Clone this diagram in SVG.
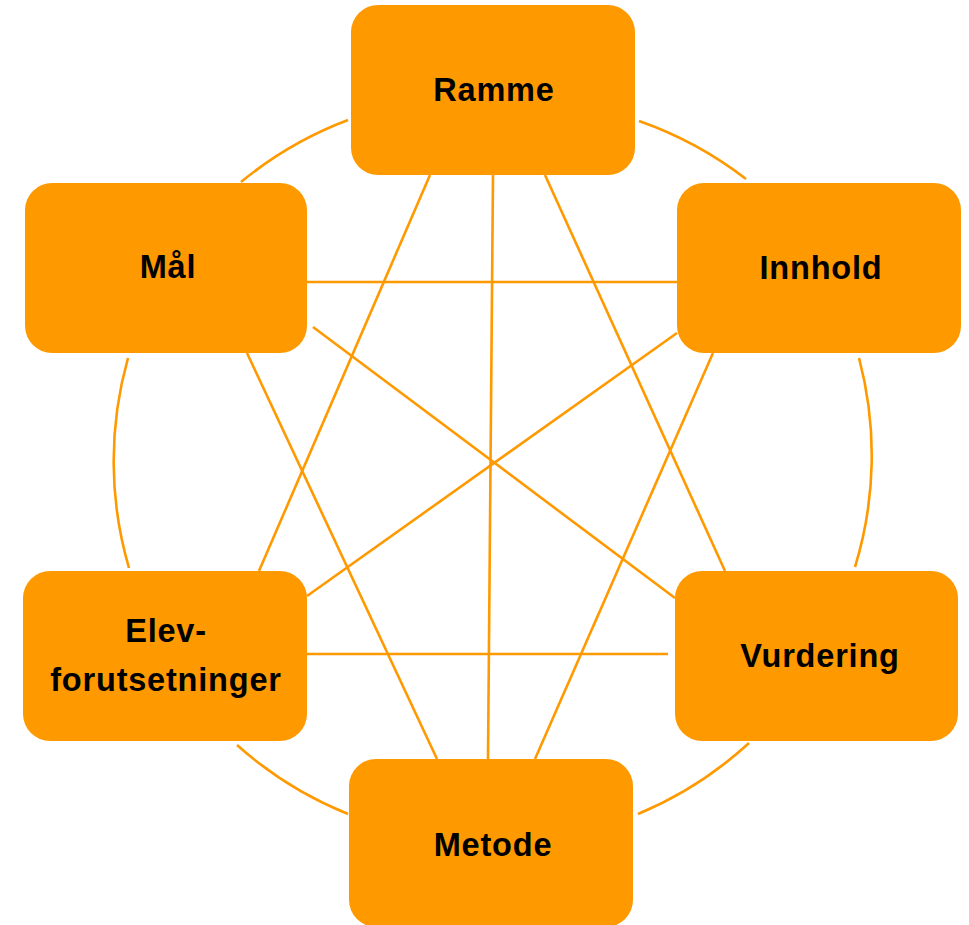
<svg xmlns="http://www.w3.org/2000/svg" width="969" height="925" viewBox="0 0 969 925">
<style>
.node rect{fill:#FF9900;}
.node text{font-family:"Liberation Sans",Arial,sans-serif;font-weight:bold;font-size:32.5px;letter-spacing:0.8px;fill:#000;text-anchor:middle;}
.conn line,.conn path{stroke:#FF9900;stroke-width:2.6;fill:none;}
</style>
<rect width="969" height="925" fill="#fff"/>
<g id="connectors" class="conn">
<path d="M348 120 A379 379 0 0 0 241 182"/>
<path d="M128 358 A379 379 0 0 0 129 568"/>
<path d="M237 745 A379 379 0 0 0 348 814"/>
<path d="M638 814 A379 379 0 0 0 749 743"/>
<path d="M855 567 A379 379 0 0 0 859 358"/>
<path d="M746 179 A379 379 0 0 0 639 121"/>
<line x1="307" y1="282" x2="677" y2="282"/>
<line x1="307" y1="654" x2="668" y2="654"/>
<line x1="493" y1="175" x2="488" y2="759"/>
<line x1="430" y1="175" x2="259" y2="571"/>
<line x1="545" y1="175" x2="725" y2="571"/>
<line x1="313" y1="327" x2="675" y2="598"/>
<line x1="247" y1="353" x2="437" y2="759"/>
<line x1="677" y1="333" x2="307" y2="596"/>
<line x1="713" y1="353" x2="535" y2="759"/>
</g>
<g id="ramme" class="node"><rect x="351" y="5" width="284" height="170" rx="27"/><text x="494" y="101">Ramme</text></g>
<g id="maal" class="node"><rect x="25" y="183" width="282" height="170" rx="27"/><text x="168" y="278">Mål</text></g>
<g id="innhold" class="node"><rect x="677" y="183" width="284" height="170" rx="27"/><text x="821" y="279">Innhold</text></g>
<g id="elev" class="node"><rect x="23" y="571" width="284" height="170" rx="27"/><text x="166" y="642">Elev-</text><text x="166" y="691">forutsetninger</text></g>
<g id="vurdering" class="node"><rect x="675" y="571" width="283" height="170" rx="27"/><text x="820" y="667">Vurdering</text></g>
<g id="metode" class="node"><rect x="349" y="759" width="284" height="168" rx="27"/><text x="493" y="856">Metode</text></g>
</svg>
